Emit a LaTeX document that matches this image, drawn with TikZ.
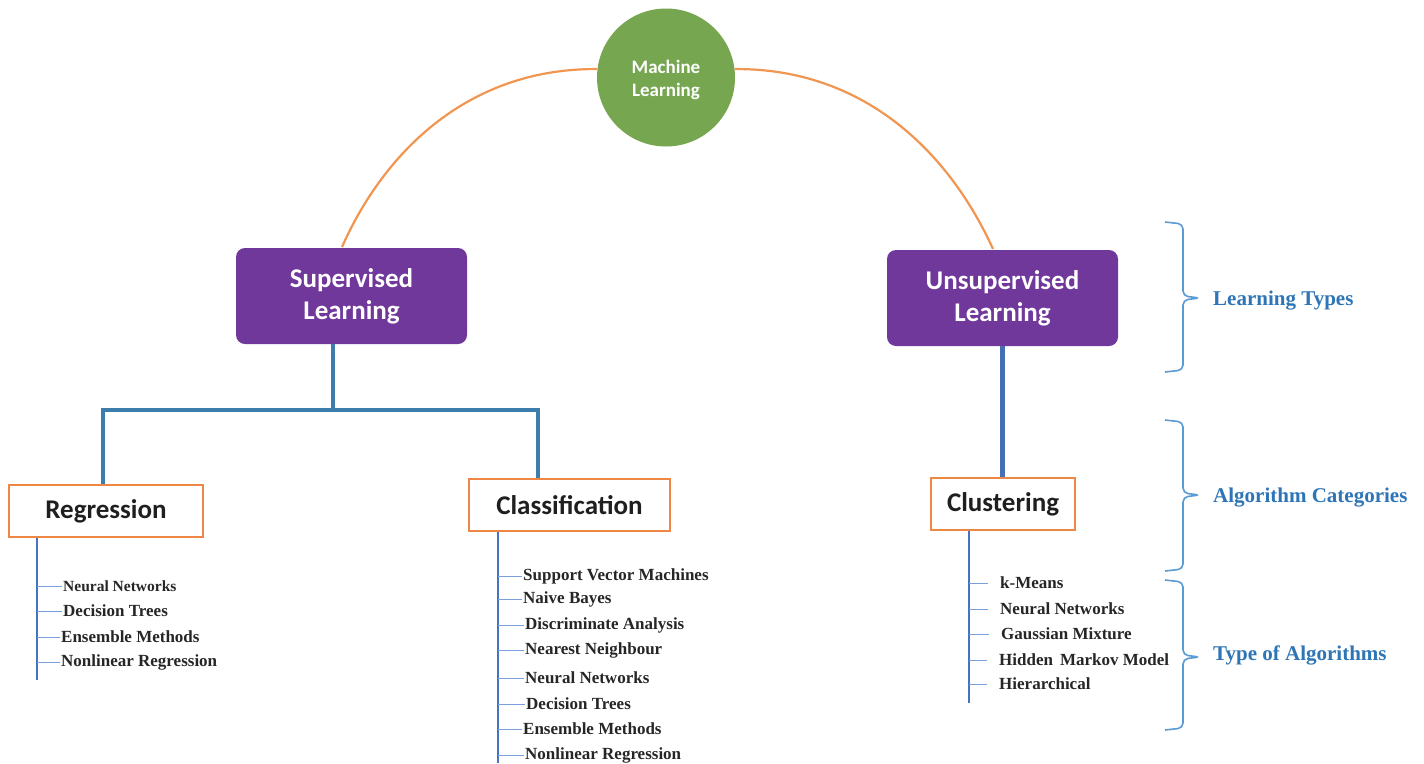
\documentclass[tikz,border=0pt]{standalone}
\usepackage{fontspec}
\setmainfont{Liberation Serif}
\newfontfamily\carl{Carlito}
\definecolor{mlgreen}{RGB}{118,167,80}
\definecolor{ltpurple}{RGB}{112,56,155}
\definecolor{catorange}{RGB}{238,135,70}
\definecolor{arcorange}{RGB}{240,150,80}
\definecolor{treeblue}{RGB}{61,125,172}
\definecolor{unsblue}{RGB}{70,110,180}
\definecolor{spineblue}{RGB}{70,114,196}
\definecolor{tickblue}{RGB}{120,160,220}
\definecolor{braceblue}{RGB}{91,155,213}
\definecolor{lblblue}{RGB}{46,117,182}
\definecolor{itemgray}{RGB}{38,38,38}
\begin{document}
\begin{tikzpicture}[x=1pt,y=-1pt,
  ml/.style={circle, fill=mlgreen, minimum size=138pt, inner sep=0pt, text=white, font=\carl\bfseries\fontsize{19}{23}\selectfont, align=center},
  lt/.style={rectangle, rounded corners=9pt, fill=ltpurple, minimum width=231pt, minimum height=96pt, text=white, font=\carl\bfseries\fontsize{27}{32}\selectfont, align=center},
  cat/.style={rectangle, draw=catorange, line width=1.8pt, fill=white, minimum height=52pt, font=\carl\bfseries\fontsize{27}{30}\selectfont, text=black!88},
  item/.style={anchor=west, inner xsep=1pt, inner ysep=1pt, font=\bfseries\fontsize{17}{20}\selectfont, text=itemgray},
  lbl/.style={anchor=west, inner sep=0pt, font=\bfseries\fontsize{21}{24}\selectfont, text=lblblue},
  tree/.style={draw=treeblue, line width=3.5pt},
  spine/.style={draw=spineblue, line width=1.8pt},
  tick/.style={draw=tickblue, line width=1pt},
  brc/.style={draw=braceblue, line width=1.6pt, rounded corners=5pt},
  arcline/.style={draw=arcorange, line width=2.2pt}
]
\useasboundingbox (0,0) rectangle (1424,763);

% main nodes
\node[ml] (ml) at (666,77.5) {\rule{0pt}{19pt}Machine\\Learning};
\node[lt] (sup) at (351.5,296) {Supervised\\Learning};
\node[lt] (uns) at (1002.5,298) {Unsupervised\\Learning};
\node[cat, minimum width=194pt] (reg) at (106,511) {Regression};
\node[cat, minimum width=201pt] (cls) at (569.5,505) {Classification};
\node[cat, minimum width=144pt] (clu) at (1003,504) {Clustering};

% arcs
\coordinate (supa) at (342,247);
\coordinate (unsa) at (993,249);
\draw[arcline] (ml.173) .. controls (470,68) and (385,150) .. (supa);
\draw[arcline] (ml.7) .. controls (862,68) and (948,150) .. (unsa);

% supervised tree
\coordinate (j) at (333,410);
\coordinate (rj) at (103,410);
\coordinate (cj) at (538,410);
\draw[tree] (j |- sup.south) -- (j);
\draw[tree] (rj |- reg.north) -- (rj) -- (cj) -- (cj |- cls.north);
\coordinate (uj) at (1002.5,0);
\draw[draw=unsblue, line width=5pt] (uns.south) -- (uj |- clu.north);

% regression list
\coordinate (rs) at (37,680);
\draw[spine] (rs |- reg.south) -- (rs);
\node[item, font=\bfseries\fontsize{15.5}{18}\selectfont] (r1) at (62,586) {Neural Networks};
\node[item] (r2) at (62,611) {Decision Trees};
\node[item] (r3) at (60,637) {Ensemble Methods};
\node[item] (r4) at (60,662) {Nonlinear Regression};
\foreach \n in {r1,r2,r3,r4} \draw[tick] (rs |- \n.west) -- (\n.west);

% classification list
\coordinate (cs) at (498,763);
\draw[spine] (cs |- cls.south) -- (cs);
\node[item] (c1) at (522,576) {Support Vector Machines};
\node[item] (c2) at (522,599) {Naive Bayes};
\node[item] (c3) at (524,625) {Discriminate Analysis};
\node[item] (c4) at (524,650) {Nearest Neighbour};
\node[item] (c5) at (524,678) {Neural Networks};
\node[item] (c6) at (525,704) {Decision Trees};
\node[item] (c7) at (522,729) {Ensemble Methods};
\node[item] (c8) at (524,755) {Nonlinear Regression};
\foreach \n in {c1,c2,c3,c4,c5,c6,c7,c8} \draw[tick] (cs |- \n.west) -- (\n.west);

% clustering list
\coordinate (ks) at (969,703);
\draw[spine] (ks |- clu.south) -- (ks);
\node[item, inner xsep=6pt] (k1) at (994,583) {k-Means};
\node[item, inner xsep=6pt] (k2) at (994,609) {Neural Networks};
\node[item, inner xsep=6pt] (k3) at (995,634) {Gaussian Mixture};
\node[item, inner xsep=6pt] (k4) at (993,660) {Hidden\, Markov Model};
\node[item, inner xsep=6pt] (k5) at (993,684) {Hierarchical};
\foreach \n in {k1,k2,k3,k4,k5} \draw[tick] (ks |- \n.west) -- ([xshift=-6pt]\n.west);

% braces
\draw[brc] (1165,222) -- (1183,224) -- (1183,296) -- (1200,298) -- (1183,300) -- (1183,370) -- (1165,372);
\draw[brc] (1165,420) -- (1183,422) -- (1183,493) -- (1200,495) -- (1183,497) -- (1183,569) -- (1165,571);
\draw[brc] (1165,580) -- (1183,582) -- (1183,655) -- (1200,657) -- (1183,659) -- (1183,728) -- (1165,730);
\node[lbl] (l1) at (1213,301) {Learning Types};
\node[lbl] (l2) at (1213,498) {Algorithm Categories};
\node[lbl] (l3) at (1213,655) {Type of Algorithms};
\end{tikzpicture}
\end{document}
